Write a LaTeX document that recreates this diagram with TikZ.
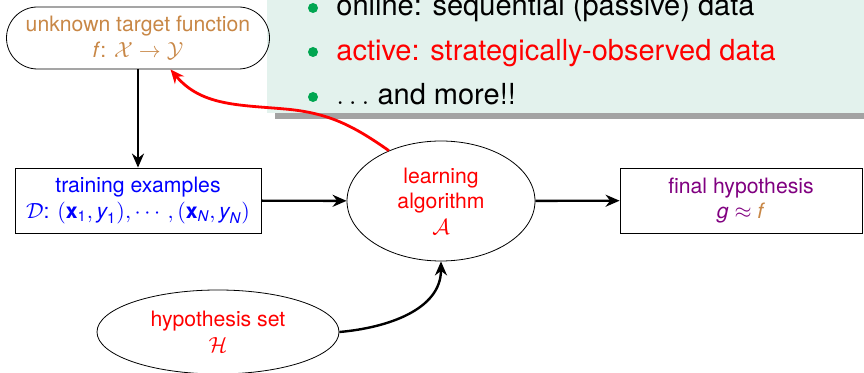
\documentclass[tikz,border=0pt]{standalone}
\usepackage{amsmath}
\usepackage{fontspec}
\setmainfont{TeX Gyre Heros}
\usepackage{tikz}
\usetikzlibrary{shapes.geometric,arrows.meta,shadows}
\definecolor{tgtbrown}{RGB}{200,135,70}
\definecolor{notegreen}{RGB}{227,242,237}
\definecolor{dotgreen}{RGB}{0,166,81}
\definecolor{hypviolet}{RGB}{128,0,128}

\begin{document}
\begin{tikzpicture}[x=0.5pt,y=-0.5pt,
    flow/.style={-{Stealth[length=7pt,width=6pt]}, line width=1.2pt},
    txt/.style={align=center, inner sep=1pt, font=\fontsize{10.6}{12.8}\selectfont},
    squarebox/.style={txt, draw, thin, minimum width=123pt, minimum height=32.5pt},
    roundbox/.style={txt, ellipse, draw, thin},
    dot/.style={circle, fill=dotgreen, inner sep=0pt, minimum size=5pt},
    item/.style={anchor=base west, inner sep=0pt, font=\fontsize{14.5}{16}\selectfont}]
  \useasboundingbox (0,0) rectangle (864,373);
  % side note
  \fill[notegreen, drop shadow={shadow xshift=4pt, shadow yshift=-3pt, fill=black!60, opacity=.6}] (267,-20) rectangle (900,113);
  \node[dot] (b1) at (313,8) {};
  \node[dot] (b2) at (313,52) {};
  \node[dot] (b3) at (313,97) {};
  \node[item] (t1) at (336,16) {online: sequential (passive) data};
  \node[item, text=red] (t2) at (336,61) {active: strategically-observed data};
  \node[item] (t3) at (336,105) {$\ldots$ and more!!};
  % diagram
  \node[txt, draw, thin, rounded corners=15.5pt, minimum width=131.5pt, minimum height=31pt, text=tgtbrown] (target) at (138,38) {unknown target function\\ \textit{f}: $\mathcal{X}\to\mathcal{Y}$};
  \node[squarebox, text=blue] (train) at (138,200.5) {training examples\\ $\mathcal{D}$: $(\textbf{x}_{\text{1}}, \textit{y}_{\text{1}}), \cdots, (\textbf{x}_{\textit{N}}, \textit{y}_{\textit{N}})$};
  \node[roundbox, minimum width=94pt, minimum height=60pt, text=red] (learn) at (441,201) {learning\\ algorithm\\ $\mathcal{A}$};
  \node[squarebox, minimum width=121pt, text=hypviolet] (final) at (741,200.5) {final hypothesis\\ \textit{g} $\approx$ \textcolor{tgtbrown}{\textit{f}}};
  \node[roundbox, minimum width=121pt, minimum height=42pt, text=red] (hyp) at (218,332) {hypothesis set\\ $\mathcal{H}$};
  \coordinate (bend) at (285,109);

  \draw[flow] (target) -- (train);
  \draw[flow] (train) -- (learn);
  \draw[flow] (learn) -- (final);
  \draw[flow] (hyp.east) to[out=5, in=-90] (learn.south);
  \draw[flow, red, line width=1.4pt] (learn.136) to[out=145, in=-5] (bend) to[out=175, in=-50] (target.-44);
\end{tikzpicture}
\end{document}
